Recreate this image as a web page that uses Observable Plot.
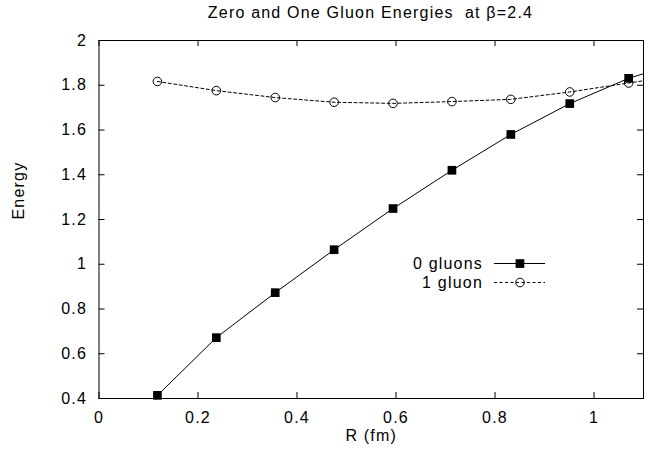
<!DOCTYPE html>
<html>
<head>
<meta charset="utf-8">
<script src="https://cdn.jsdelivr.net/npm/d3@7"></script>
<script src="https://cdn.jsdelivr.net/npm/@observablehq/plot@0.6"></script>
<style>
  body { margin: 0; background: #fff; }
  #wrap { position: relative; width: 656px; height: 458px; font-family: "Liberation Sans", Arial, sans-serif; color: #000; }
  #title { height: 25px; line-height: 25px; padding-left: 98px; width: 545px; text-align: center; font-size: 16px; letter-spacing: 1.2px; white-space: pre; }
  #legend { position: absolute; left: 380px; top: 254px; font-size: 16px; letter-spacing: 1.2px; }
  .row { display: flex; align-items: center; height: 19px; }
  .row span { width: 103px; text-align: right; display: inline-block; }
  .row svg { margin-left: 11px; }
</style>
</head>
<body>
<div id="wrap">
  <div id="title">Zero and One Gluon Energies  at β=2.4</div>
  <div id="chart"></div>
  <div id="legend"></div>
</div>
<script>
// Data
const R = [0.118, 0.237, 0.356, 0.475, 0.594, 0.713, 0.832, 0.951, 1.070, 1.189];
const zeroGluons = [0.414, 0.672, 0.873, 1.065, 1.249, 1.420, 1.580, 1.718, 1.831, 1.912];
const oneGluon = [1.817, 1.776, 1.745, 1.724, 1.719, 1.727, 1.737, 1.770, 1.810, 1.850];
const xTicks = [0, 0.2, 0.4, 0.6, 0.8, 1];
const yTicks = [0.4, 0.6, 0.8, 1, 1.2, 1.4, 1.6, 1.8, 2];
const seriesNames = ["0 gluons", "1 gluon"];
const xDomain = [0, 1.1];

const d0 = R.map((r, i) => ({r, e: zeroGluons[i]}));
const d1 = R.map((r, i) => ({r, e: oneGluon[i]}));
const inside = d => d.r <= xDomain[1];

const W = 656, H = 433, mT = 15, mB = 60, mL = 98.5, mR = 13;
const innerH = H - mT - mB, innerW = W - mL - mR, tk = 6;
const fmt = d => String(+d.toFixed(1));
const font = "'Liberation Sans', Arial, sans-serif";

const chart = Plot.plot({
  width: W, height: H,
  marginTop: mT, marginBottom: mB, marginLeft: mL, marginRight: mR,
  style: {fontFamily: font, fontSize: "16px", letterSpacing: "1.2px", background: "#fff", color: "#000"},
  x: {domain: xDomain},
  y: {domain: [0.4, 2]},
  marks: [
    Plot.axisX(xTicks, {tickSize: 0, tickPadding: 13, label: null, tickFormat: fmt}),
    Plot.axisY(yTicks, {tickSize: 0, tickPadding: 12, label: null, tickFormat: fmt}),
    Plot.ruleX(xTicks, {x: d => d, insetTop: innerH - tk, stroke: "#000"}),
    Plot.ruleX(xTicks, {x: d => d, insetBottom: innerH - tk, stroke: "#000"}),
    Plot.ruleY(yTicks, {y: d => d, insetRight: innerW - tk, stroke: "#000"}),
    Plot.ruleY(yTicks, {y: d => d, insetLeft: innerW - tk, stroke: "#000"}),
    Plot.line(d0, {x: "r", y: "e", stroke: "#000", strokeWidth: 1, clip: true}),
    Plot.line(d1, {x: "r", y: "e", stroke: "#000", strokeWidth: 1, strokeDasharray: "3,2.5", clip: true}),
    Plot.frame({stroke: "#000"}),
    Plot.dot(d0.filter(inside), {x: "r", y: "e", symbol: "square", r: 4.9, fill: "#000", stroke: "none"}),
    Plot.dot(d1.filter(inside), {x: "r", y: "e", symbol: "circle", r: 4.3, fill: "none", stroke: "#000", strokeWidth: 1}),
    Plot.text(["R (fm)"], {frameAnchor: "bottom", dy: 42, fontSize: 16}),
    Plot.text(["Energy"], {frameAnchor: "left", dx: -80.5, rotate: -90, fontSize: 16})
  ]
});
document.getElementById("chart").appendChild(chart);

// Legend
const legend = document.getElementById("legend");
const swatches = [
  `<svg width="51" height="19"><line x1="0" x2="51" y1="9.5" y2="9.5" stroke="#000"/><rect x="21.6" y="5.2" width="8.7" height="8.7" fill="#000"/></svg>`,
  `<svg width="51" height="19"><line x1="0" x2="51" y1="9.5" y2="9.5" stroke="#000" stroke-dasharray="3,2.5"/><circle cx="26" cy="9.5" r="4.3" fill="none" stroke="#000"/></svg>`
];
seriesNames.forEach((name, i) => {
  const row = document.createElement("div");
  row.className = "row";
  row.innerHTML = `<span>${name}</span>${swatches[i]}`;
  legend.appendChild(row);
});
</script>
</body>
</html>
